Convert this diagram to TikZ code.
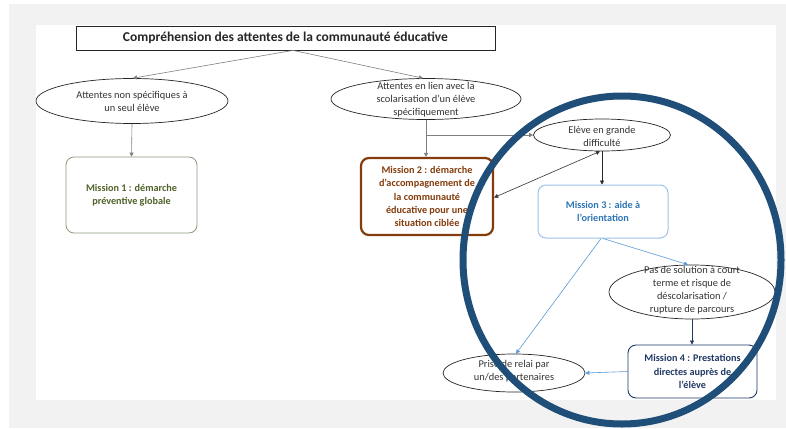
\documentclass[tikz,border=0pt]{standalone}
\usepackage{fontspec}
\setmainfont{Carlito}
\usetikzlibrary{shapes.geometric,arrows.meta}
\definecolor{bggray}{HTML}{F2F2F2}
\definecolor{linegray}{HTML}{808080}
\definecolor{oliveb}{HTML}{8C9A80}
\definecolor{olivet}{HTML}{4F6228}
\definecolor{brownc}{HTML}{843C0C}
\definecolor{lblue}{HTML}{9DC3E6}
\definecolor{mblue}{HTML}{2E75B6}
\definecolor{arrblue}{HTML}{5B9BD5}
\definecolor{navyc}{HTML}{1F3864}
\definecolor{circc}{HTML}{1F4E79}
\definecolor{txtgray}{HTML}{333333}
\begin{document}
\begin{tikzpicture}[x=1pt,y=-1pt,
  ell/.style={draw=black!85, line width=0.7pt, ellipse, inner sep=0pt},
  etext/.style={align=center, font=\fontsize{10.4}{13}\selectfont, text=txtgray, inner sep=0pt},
  mbox/.style={rounded corners=8pt, align=center, font=\fontsize{10.2}{13.2}\selectfont\bfseries, inner sep=2pt},
  conn/.style={line width=0.6pt, -{Triangle[length=4pt,width=4pt]}},
  dconn/.style={line width=0.6pt, {Triangle[length=4pt,width=4pt]}-{Triangle[length=4pt,width=4pt]}},
]
\useasboundingbox (0,0) rectangle (786,428);
\fill[white] (0,0) rectangle (786,428);
\fill[bggray] (9,4) rectangle (786,428);
\fill[white] (36,25) rectangle (776,400);

% title
\node[draw=black!85, line width=0.8pt, minimum width=419pt, minimum height=24pt, inner sep=0pt,
      font=\fontsize{13.5}{15}\selectfont\bfseries, text=black!85] (title) at (285.5,38)
      {Compréhension des attentes de la communauté éducative};

% ellipses
\node[ell, minimum width=192pt, minimum height=45pt] (e1) at (132,101) {};
\node[etext] (e1t) at (132,101.5) {Attentes non spécifiques à\\un seul élève};

\node[ell, minimum width=190pt, minimum height=41pt] (e2) at (426,99) {};
\node[etext] (e2t) at (426,99.5) {Attentes en lien avec la\\scolarisation d’un élève\\spécifiquement};

\node[ell, minimum width=137pt, minimum height=32pt] (ev) at (602,135) {};
\node[etext] (evt) at (602,136) {Elève en grande\\difficulté};

\node[ell, minimum width=166pt, minimum height=54pt] (pas) at (692,292) {};
\node[etext] (past) at (692,290) {Pas de solution à court\\terme et risque de\\déscolarisation /\\rupture de parcours};

\node[ell, minimum width=142pt, minimum height=38pt] (prise) at (514,373) {};
\node[etext] (priset) at (514,371.5) {Prise de relai par\\un/des partenaires};

% mission boxes
\node[mbox, draw=oliveb, line width=0.8pt, text=olivet, minimum width=131pt, minimum height=76pt]
  (m1) at (131.5,195) {Mission 1 : démarche\\préventive globale};
\node[mbox, draw=brownc, line width=2.2pt, text=brownc, minimum width=132pt, minimum height=77pt]
  (m2) at (427,196.5) {Mission 2 : démarche\\d’accompagnement de\\la communauté\\éducative pour une\\situation ciblée};
\node[mbox, draw=lblue, line width=1pt, text=mblue, minimum width=130pt, minimum height=53pt]
  (m3) at (603,211.5) {Mission 3 : aide à\\l’orientation};
\node[mbox, draw=navyc, line width=0.9pt, text=navyc, minimum width=129pt, minimum height=53pt]
  (m4) at (692.5,371.5) {Mission 4 : Prestations\\directes auprès de\\l’élève};

% connectors
\draw[conn, linegray] ([xshift=7.5pt]title.south) -- ([xshift=1pt]e1.north);
\draw[conn, linegray] ([xshift=7.5pt]title.south) -- ([xshift=-3pt]e2.north);
\draw[conn, linegray] (e1.south) -- (m1.north);
\draw[conn, linegray] (e2.south) -- (e2.south |- m2.north);
\coordinate (br) at (e2.south |- ev.west);
\draw[conn, linegray] (br) -- (ev.west);
\draw[dconn, black!80] ([xshift=-2pt]ev.south) -- ([yshift=-1pt]m2.east);
\draw[conn, black!85] (ev.south) -- (ev.south |- m3.north);
\draw[conn, arrblue] (m3.south) -- ([xshift=-4pt]pas.north);
\draw[conn, arrblue] ([xshift=-2pt]m3.south) -- ([xshift=2pt]prise.north);
\draw[conn, navyc] (pas.south) -- (pas.south |- m4.north);
\draw[conn, arrblue] (m4.west) -- (prise.east);

% highlight circle
\draw[circc, line width=7pt] (622,260) ellipse [x radius=159pt, y radius=164pt];
\end{tikzpicture}
\end{document}
